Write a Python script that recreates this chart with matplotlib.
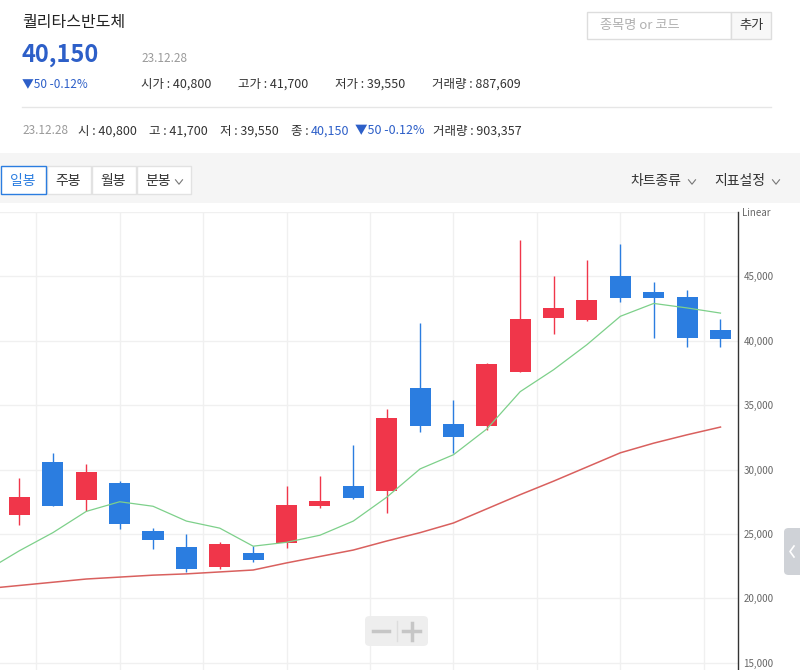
import numpy as np
import matplotlib.pyplot as plt
from matplotlib.patches import Rectangle, FancyBboxPatch
from matplotlib.lines import Line2D

plt.rcParams['font.family'] = ['Noto Sans CJK KR', 'DejaVu Sans']

# daily candles, oldest first (last = 23.12.28)
opens = [26450, 30600, 27650, 28950, 25250, 24000, 22450, 23550, 24300, 27200, 28750,
         28350, 36350, 33550, 33400, 37600, 41750, 41650, 45050, 43800, 43400, 40800]
highs = [29350, 31300, 30450, 29100, 25450, 25000, 24400, 24050, 28750, 29500, 31900,
         34700, 41400, 35400, 38250, 47850, 45050, 46300, 47550, 44600, 43950, 41700]
lows = [25700, 27150, 26750, 25350, 23800, 22050, 22300, 22850, 23900, 27050, 27750,
        26600, 32900, 31300, 33050, 37550, 40550, 41500, 43050, 40250, 39550, 39550]
closes = [27900, 27200, 29800, 25750, 24550, 22300, 24250, 22950, 27250, 27550, 27800,
          34000, 33350, 32550, 38200, 41700, 42550, 43200, 43350, 43350, 40200, 40150]

# moving averages, starting one day before the first visible candle
ma5 = [22150, 23700, 25100, 26750, 27500, 27150, 26000, 25450, 24050, 24350, 24900, 26000,
       27850, 30050, 31150, 33150, 36050, 37750, 39700, 41900, 42900, 42550, 42150]
ma20 = [20750, 21000, 21250, 21500, 21650, 21800, 21900, 22050, 22200, 22750, 23250, 23750,
        24450, 25100, 25850, 26950, 28050, 29100, 30200, 31300, 32050, 32700, 33300]

price_ticks = [15000, 20000, 25000, 30000, 35000, 40000, 45000]
date_grid = [0.5, 3, 5.5, 8, 10.5, 13, 15.5, 18, 20.5]

RED = '#f0364a'
BLUE = '#2b7de0'
W, H = 800, 670


def fx(px):
    return px / W


def fy(py):
    return 1 - py / H


fig = plt.figure(figsize=(8, 6.7), dpi=100)
fig.patch.set_facecolor('white')

# ---- header ----
fig.text(fx(22), fy(22), '퀄리타스반도체', fontsize=11.5, color='#222222', va='center')
fig.text(fx(21), fy(55), '40,150', fontsize=17, color='#2d5fc8', weight='bold', va='center')
fig.text(fx(141), fy(58), '23.12.28', fontsize=8.5, color='#9a9a9a', va='center')
fig.text(fx(22), fy(84), '▼50 -0.12%', fontsize=8.5, color='#2d5fc8', va='center')
for px, s in [(141, '시가 : 40,800'), (238, '고가 : 41,700'),
              (335, '저가 : 39,550'), (432, '거래량 : 887,609')]:
    fig.text(fx(px), fy(84), s, fontsize=9, color='#333333', va='center')

fig.add_artist(Line2D([fx(22), fx(771)], [fy(107), fy(107)], color='#e6e6e6', lw=1))

fig.text(fx(22), fy(131), '23.12.28', fontsize=8.5, color='#9a9a9a', va='center')
for px, s in [(78, '시 : 40,800'), (149, '고 : 41,700'), (220, '저 : 39,550'), (291, '종 :'),
              (433, '거래량 : 903,357')]:
    fig.text(fx(px), fy(131), s, fontsize=9, color='#333333', va='center')
fig.text(fx(311), fy(131), '40,150', fontsize=9, color='#2d5fc8', va='center')
fig.text(fx(355), fy(131), '▼50 -0.12%', fontsize=9, color='#2d5fc8', va='center')

# search box
fig.add_artist(Rectangle((fx(587), fy(39)), fx(144), 27 / H, transform=fig.transFigure,
                         fc='white', ec='#dddddd', lw=1))
fig.add_artist(Rectangle((fx(731), fy(39)), fx(40), 27 / H, transform=fig.transFigure,
                         fc='#f8f8f8', ec='#dddddd', lw=1))
fig.text(fx(600), fy(26), '종목명 or 코드', fontsize=9.5, color='#b0b0b0', va='center')
fig.text(fx(751), fy(26), '추가', fontsize=9.5, color='#333333', va='center', ha='center')

# ---- toolbar ----
fig.add_artist(Rectangle((0, fy(203)), 1, 50 / H, transform=fig.transFigure,
                         fc='#f5f5f5', ec='none'))
buttons = [('일봉', 0, 46), ('주봉', 46, 91), ('월봉', 91, 136), ('분봉', 136, 191)]
for i, (lab, x0, x1) in enumerate(buttons):
    ec = '#e2e2e2' if i else BLUE
    fig.add_artist(Rectangle((fx(x0 + 0.5), fy(194)), fx(x1 - x0 - 1), 28 / H,
                             transform=fig.transFigure, fc='white', ec=ec, lw=1,
                             zorder=3 if i == 0 else 2))
    cx = (x0 + x1) / 2 - (5 if lab == '분봉' else 0)
    fig.text(fx(cx), fy(181), lab, fontsize=10, color=BLUE if i == 0 else '#333333',
             va='center', ha='center')


def chevron(cx, cy, w=3.5, h=2.2, color='#777777'):
    fig.add_artist(Line2D([fx(cx - w), fx(cx), fx(cx + w)], [fy(cy - h), fy(cy + h), fy(cy - h)],
                          color=color, lw=0.8))


chevron(179, 182)
fig.text(fx(630), fy(181), '차트종류', fontsize=10, color='#333333', va='center')
chevron(692, 182)
fig.text(fx(714), fy(181), '지표설정', fontsize=10, color='#333333', va='center')
chevron(776, 182)

# ---- price chart ----
ax = fig.add_axes([0, 0, fx(738), (670 - 212) / H])
x = np.arange(len(closes))
o, h, l, c = map(np.array, (opens, highs, lows, closes))
cols = np.where(c >= o, RED, BLUE)

ax.vlines(x, l, h, colors=cols, lw=1.0, zorder=3)
ax.bar(x, np.maximum(np.abs(c - o), 60), bottom=np.minimum(o, c), width=0.63,
       color=cols, zorder=4)

xm = np.arange(-1, len(closes))
ax.plot(xm, ma20, color='#d9605e', lw=1.1, zorder=5)
ax.plot(xm, ma5, color='#7dd08a', lw=0.9, zorder=5)

ax.set_xlim(-0.584, 21.525)
ax.set_ylim(14435, 50000)
ax.set_xticks(date_grid)
ax.set_yticks(price_ticks + [50000])
ax.grid(True, color='#f0f0f0', lw=1, zorder=0)
ax.tick_params(axis='x', length=0, labelbottom=False)
ax.yaxis.tick_right()
ax.tick_params(axis='y', length=0, pad=4, labelsize=7, labelcolor='#666666')
ax.set_yticklabels([f'{v:,}' for v in price_ticks] + [''])
for s in ['top', 'left', 'bottom']:
    ax.spines[s].set_visible(False)
ax.spines['right'].set_color('#333333')
ax.spines['right'].set_linewidth(1)
fig.text(fx(742), fy(213), 'Linear', fontsize=7, color='#666666', va='center')

# zoom buttons
fig.add_artist(FancyBboxPatch((fx(365), fy(646)), fx(63), 30 / H, transform=fig.transFigure,
                              boxstyle='round,pad=0,rounding_size=0.006', fc='#eeeeee',
                              ec='none', zorder=6))
fig.add_artist(Line2D([fx(373), fx(389)], [fy(631), fy(631)], color='#c6c6c6', lw=2.5, zorder=7))
fig.add_artist(Line2D([fx(403), fx(420)], [fy(631), fy(631)], color='#c6c6c6', lw=2.5, zorder=7))
fig.add_artist(Line2D([fx(411.5), fx(411.5)], [fy(623), fy(640)], color='#c6c6c6', lw=2.5, zorder=7))
fig.add_artist(Line2D([fx(397), fx(397)], [fy(621), fy(641)], color='#dddddd', lw=1, zorder=7))

# side handle
fig.add_artist(FancyBboxPatch((fx(784), fy(575)), fx(20), 47 / H, transform=fig.transFigure,
                              boxstyle='round,pad=0,rounding_size=0.006', fc='#cfd2d7',
                              ec='none', zorder=6))
fig.add_artist(Line2D([fx(794), fx(790), fx(794)], [fy(546), fy(551.5), fy(557)],
                      color='white', lw=1.2, zorder=7))

fig.savefig('out.png', dpi=100)
